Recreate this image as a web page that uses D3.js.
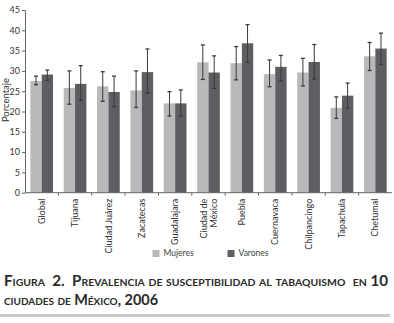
<!DOCTYPE html>
<html>
<head>
<meta charset="utf-8">
<script src="https://cdnjs.cloudflare.com/ajax/libs/d3/7.8.5/d3.min.js"></script>
<style>
  html, body { margin: 0; padding: 0; background: #fff; }
  svg { display: block; }
  text { font-family: Lato, "DejaVu Sans", sans-serif; }
</style>
</head>
<body>
<svg id="chart"></svg>
<script>
// Prevalencia de susceptibilidad al tabaquismo (%), Mujeres vs. Varones, con IC
const cities = ["Global", "Tijuana", "Ciudad Juárez", "Zacatecas", "Guadalajara",
  "Ciudad de México", "Puebla", "Cuernavaca", "Chilpancingo", "Tapachula", "Chetumal"];
const mujeres   = [27.5, 25.8, 26.2, 25.2, 22.0, 32.1, 31.9, 29.2, 29.6, 20.9, 33.6];
const mujeresLo = [26.6, 21.8, 22.5, 21.0, 18.9, 27.9, 27.8, 26.1, 26.3, 18.3, 30.1];
const mujeresHi = [28.7, 30.0, 29.8, 30.0, 24.9, 36.4, 36.0, 32.7, 33.1, 23.6, 37.0];
const varones   = [29.1, 26.8, 24.8, 29.7, 22.0, 29.6, 36.8, 31.0, 32.2, 23.9, 35.5];
const varonesLo = [27.7, 22.7, 21.2, 24.5, 18.9, 25.7, 32.1, 27.5, 28.0, 20.9, 31.6];
const varonesHi = [30.2, 31.3, 28.7, 35.4, 25.3, 33.7, 41.4, 33.8, 36.5, 27.0, 39.3];
const yTicks = [0, 5, 10, 15, 20, 25, 30, 35, 40, 45];
const series = ["Mujeres", "Varones"];

const W = 394, H = 323;
const svg = d3.select("#chart").attr("width", W).attr("height", H);

// Layout (Plotbereich)
const plot = { left: 25, right: 392, top: 10, bottom: 192.7 };

const x0 = d3.scaleBand().domain(cities).range([plot.left, plot.right]).padding(0);
const x1 = d3.scaleBand().domain(series).range([0, x0.bandwidth()])
  .paddingInner(0).paddingOuter(0.47);
const y = d3.scaleLinear().domain([0, 45]).range([plot.bottom, plot.top]);
const color = d3.scaleOrdinal().domain(series).range(["#b9b9bc", "#5e5e62"]);

// Daten je Stadt
const rows = cities.map((c, i) => ({
  city: c,
  bars: [
    { key: "Mujeres", value: mujeres[i], lo: mujeresLo[i], hi: mujeresHi[i] },
    { key: "Varones", value: varones[i], lo: varonesLo[i], hi: varonesHi[i] }
  ]
}));

// Balken
const groups = svg.append("g").selectAll("g.city")
  .data(rows)
  .enter().append("g")
    .attr("class", "city")
    .attr("transform", d => `translate(${x0(d.city)},0)`);

groups.selectAll("rect")
  .data(d => d.bars)
  .enter().append("rect")
    .attr("x", d => x1(d.key))
    .attr("width", x1.bandwidth())
    .attr("y", d => y(d.value))
    .attr("height", d => y(0) - y(d.value))
    .attr("fill", d => color(d.key));

// Fehlerbalken
const err = groups.selectAll("g.err")
  .data(d => d.bars)
  .enter().append("g")
    .attr("class", "err")
    .attr("stroke", "#3a3a3a")
    .attr("stroke-width", 1);

err.append("line")
  .attr("x1", d => x1(d.key) + x1.bandwidth() / 2)
  .attr("x2", d => x1(d.key) + x1.bandwidth() / 2)
  .attr("y1", d => y(d.lo))
  .attr("y2", d => y(d.hi));

["lo", "hi"].forEach(k => {
  err.append("line")
    .attr("x1", d => x1(d.key) + x1.bandwidth() / 2 - 2)
    .attr("x2", d => x1(d.key) + x1.bandwidth() / 2 + 2)
    .attr("y1", d => y(d[k]))
    .attr("y2", d => y(d[k]))
    .attr("stroke-width", 1.3);
});

// Y-Achse
const yAxis = svg.append("g")
  .attr("transform", `translate(${plot.left},0)`)
  .call(d3.axisLeft(y).tickValues(yTicks).tickSize(3).tickSizeOuter(0).tickPadding(2));
yAxis.select(".domain").attr("stroke", "#666");
yAxis.selectAll(".tick line").attr("stroke", "#666");
yAxis.selectAll(".tick text")
  .attr("fill", "#333")
  .attr("font-size", 9)
  .attr("font-family", "Lato, sans-serif");

svg.append("text")
  .attr("transform", `translate(6.5,100) rotate(-90)`)
  .attr("text-anchor", "middle")
  .attr("dominant-baseline", "middle")
  .attr("fill", "#333")
  .attr("font-size", 9.5)
  .text("Porcentaje");

// X-Achse
svg.append("line")
  .attr("x1", plot.left).attr("x2", plot.right)
  .attr("y1", plot.bottom).attr("y2", plot.bottom)
  .attr("stroke", "#666");

svg.append("g").selectAll("line")
  .data(cities.slice(1))
  .enter().append("line")
    .attr("x1", d => x0(d)).attr("x2", d => x0(d))
    .attr("y1", plot.bottom).attr("y2", plot.bottom + 3)
    .attr("stroke", "#666");

const xl = svg.append("g").selectAll("text")
  .data(cities)
  .enter().append("text")
    .attr("transform", d => `translate(${x0(d) + x0.bandwidth() / 2},${plot.bottom + 6}) rotate(-90)`)
    .attr("text-anchor", "end")
    .attr("fill", "#333")
    .attr("font-size", 9);

xl.each(function (d) {
  const t = d3.select(this);
  if (d === "Ciudad de México") {
    t.append("tspan").attr("x", 0).attr("dy", "-0.2em").text("Ciudad de");
    t.append("tspan").attr("x", 0).attr("dy", "1.1em").text("México");
  } else {
    t.append("tspan").attr("x", 0).attr("dy", "0.35em").text(d);
  }
});

// Legende
const legendX = [152.5, 227.5];
const lg = svg.append("g").selectAll("g")
  .data(series)
  .enter().append("g")
    .attr("transform", (d, i) => `translate(${legendX[i]},250)`);
lg.append("rect")
  .attr("width", 7).attr("height", 7)
  .attr("fill", d => color(d));
lg.append("text")
  .attr("x", 11).attr("y", 3.8)
  .attr("dominant-baseline", "middle")
  .attr("fill", "#444")
  .attr("font-size", 8.5)
  .text(d => d);

// Bildunterschrift
const caption = svg.append("g")
  .attr("fill", "#2a2a2a")
  .attr("font-weight", "700")
  .attr("font-size", 14.5)
  .style("font-variant", "small-caps");

caption.append("text")
  .attr("x", 4).attr("y", 286)
  .attr("textLength", 384)
  .attr("lengthAdjust", "spacingAndGlyphs")
  .text("Figura\u00a0 2.\u00a0 Prevalencia de susceptibilidad al tabaquismo\u00a0 en 10");

caption.append("text")
  .attr("x", 4).attr("y", 304.5)
  .attr("textLength", 154)
  .attr("lengthAdjust", "spacingAndGlyphs")
  .text("ciudades de México, 2006");

svg.append("rect")
  .attr("x", 0).attr("y", 314)
  .attr("width", 390).attr("height", 3)
  .attr("fill", "#cacaca");
</script>
</body>
</html>
